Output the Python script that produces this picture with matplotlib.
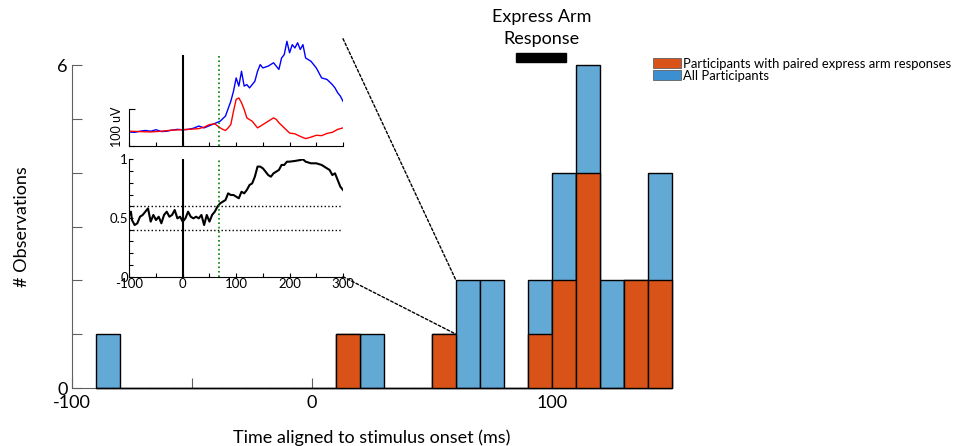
import numpy as np
import matplotlib.pyplot as plt
from matplotlib.patches import Patch, Rectangle, ConnectionPatch

plt.rcParams['font.family'] = ['Lato', 'DejaVu Sans']

## --- Data ---
# Histogram, 10 ms bins from -90 to 150 ms
bin_left = np.arange(-90, 150, 10)
all_counts = [1, 0, 0, 0, 0, 0, 0, 0, 0, 0, 1, 1, 0, 0, 1, 2, 2, 0, 2, 4, 6, 2, 2, 4]
paired_counts = [0, 0, 0, 0, 0, 0, 0, 0, 0, 0, 1, 0, 0, 0, 1, 0, 0, 0, 1, 2, 4, 0, 2, 2]

# Inset: EMG traces (uV)
t_blue = [-100, -90, -80, -70, -60, -50, -40, -30, -20, -10, 0, 10, 20, 30, 40, 50, 60,
          70, 80, 90, 95, 100, 105, 110, 115, 120, 125, 130, 135, 140, 145, 150, 160,
          170, 180, 185, 190, 195, 200, 205, 210, 215, 220, 225, 230, 240, 250, 260,
          270, 280, 285, 290, 295, 300]
emg_blue = [-2, -3, 0, 2, 0, 4, -1, 0, 3, 5, 4, 5, 8, 14, 9, 15, 21,
            27, 41, 81, 108, 144, 122, 162, 122, 126, 117, 126, 135, 162, 180, 171, 176,
            185, 167, 198, 207, 243, 212, 234, 225, 239, 221, 234, 198, 189, 171, 144,
            140, 126, 117, 104, 95, 81]
t_red = [-100, -80, -60, -40, -20, 0, 10, 20, 30, 40, 50, 60, 70, 75, 80, 85, 90, 95,
         100, 105, 110, 115, 120, 130, 140, 150, 160, 170, 175, 180, 190, 200, 210,
         220, 230, 240, 250, 260, 270, 280, 290, 300]
emg_red = [0, -1, -2, 0, 3, 4, 5, 6, 7, 11, 18, 20, 9, 5, 2, 9, 18, 54,
           86, 90, 77, 59, 36, 27, 9, 18, 27, 36, 32, 23, 9, -5, -7,
           -14, -20, -16, -11, -12, -6, -3, 5, 9]

# Inset: ROC area
t_roc = [-100, -97, -95, -90, -85, -80, -75, -70, -65, -60, -55, -50, -45, -40, -35,
         -30, -25, -20, -15, -10, -5, 0, 5, 10, 15, 20, 25, 30, 35, 40, 45, 50, 55, 60,
         65, 70, 75, 80, 85, 90, 95, 100, 105, 110, 115, 120, 125, 130, 135, 140, 145,
         150, 155, 160, 165, 170, 175, 180, 185, 190, 195, 200, 210, 220, 225, 230, 240,
         250, 260, 270, 275, 280, 285, 290, 295, 300]
roc = [0.526, 0.554, 0.483, 0.440, 0.455, 0.511, 0.526, 0.554, 0.582, 0.469, 0.526,
       0.483, 0.511, 0.455, 0.526, 0.554, 0.511, 0.526, 0.568, 0.497, 0.511, 0.469,
       0.497, 0.554, 0.511, 0.497, 0.511, 0.497, 0.526, 0.440, 0.526, 0.469, 0.526,
       0.554, 0.597, 0.625, 0.639, 0.653, 0.710, 0.696, 0.696, 0.682, 0.668, 0.724,
       0.710, 0.739, 0.781, 0.795, 0.852, 0.938, 0.938, 0.923, 0.895, 0.866, 0.852,
       0.881, 0.895, 0.909, 0.952, 0.952, 0.980, 0.980, 0.986, 0.994, 1.0, 0.980,
       0.966, 0.966, 0.952, 0.923, 0.909, 0.866, 0.881, 0.824, 0.767, 0.739]

discrim_time = 68
express_window = (85, 106)

## --- Colours ---
c_orange = '#d95319'
c_blue = '#63a9d6'
grey = '#606060'

fig = plt.figure(figsize=(9.6, 4.46), dpi=100)

## --- Main histogram ---
ax = fig.add_axes([0.075, 0.130, 0.625, 0.724])
ax.bar(bin_left, all_counts, width=10, align='edge', color=c_blue,
       edgecolor='black', linewidth=1, clip_on=False, zorder=3)
ax.bar(bin_left, paired_counts, width=10, align='edge', color=c_orange,
       edgecolor='black', linewidth=1, clip_on=False, zorder=3)
ax.set_xlim(-100, 150)
ax.set_ylim(0, 6)
ax.set_xticks([-100, -50, 0, 50, 100, 150])
ax.set_xticklabels(['-100', '', '0', '', '100', ''])
ax.set_yticks(range(7))
ax.set_yticklabels(['0', '', '', '', '', '', '6'])
ax.tick_params(direction='in', length=7, color=grey, labelsize=13)
ax.tick_params(axis='x', pad=5)
ax.tick_params(axis='y', pad=3)
for s in ['top', 'right']:
    ax.spines[s].set_visible(False)
for s in ['left', 'bottom']:
    ax.spines[s].set_color(grey)
ax.set_xlabel('Time aligned to stimulus onset (ms)', fontsize=13, labelpad=13)
ax.set_ylabel('# Observations', fontsize=13, labelpad=20)

# Express arm response window
ax.add_patch(Rectangle((express_window[0], 6.06), express_window[1] - express_window[0],
                       0.17, color='black', clip_on=False))
ax.text(95.5, 6.33, 'Express Arm\nResponse', ha='center', va='bottom',
        fontsize=13, linespacing=1.5)

handles = [Patch(facecolor=c_orange, edgecolor=grey, linewidth=0.6),
           Patch(facecolor='#3c8fd0', edgecolor=grey, linewidth=0.6)]
fig.legend(handles, ['Participants with paired express arm responses', 'All Participants'],
           loc='upper left', bbox_to_anchor=(0.673, 0.885), frameon=False,
           fontsize=9.4, handlelength=2.2, handleheight=0.8, handletextpad=0.1,
           labelspacing=0.0, borderpad=0)

## --- Inset: EMG ---
ax1 = fig.add_axes([0.1347, 0.6726, 0.2226, 0.2406])
ax1.plot(t_blue, emg_blue, color='blue', lw=1)
ax1.plot(t_red, emg_red, color='red', lw=1)
ax1.plot([0, 0], [-40, 203], color='black', lw=1.5)
ax1.plot([discrim_time, discrim_time], [-40, 203], color='green', lw=1.2, ls=':')
ax1.set_xlim(-100, 300)
ax1.set_ylim(-40, 250)
ax1.set_xticks(np.arange(-100, 301, 50))
ax1.set_xticklabels([])
ax1.set_yticks([-40, 60])
ax1.set_yticklabels([])
ax1.spines['left'].set_bounds(-40, 60)
ax1.tick_params(direction='in', length=3, width=0.8)
ax1.tick_params(axis='y', length=4)
for s in ['top', 'right']:
    ax1.spines[s].set_visible(False)
ax1.set_ylabel('100 uV', fontsize=9, labelpad=1, y=0.18)
ax1.patch.set_alpha(0)

## --- Inset: ROC ---
ax2 = fig.add_axes([0.1347, 0.3796, 0.2226, 0.2632])
ax2.plot(t_roc, roc, color='black', lw=1.5)
ax2.axhline(0.6, color='black', lw=1, ls=':')
ax2.axhline(0.4, color='black', lw=1, ls=':')
ax2.plot([0, 0], [0, 1], color='black', lw=1.5)
ax2.plot([discrim_time, discrim_time], [0, 1], color='green', lw=1.2, ls=':')
ax2.set_xlim(-100, 300)
ax2.set_ylim(0, 1)
ax2.set_xticks(np.arange(-100, 301, 50))
ax2.set_xticklabels(['-100', '', '0', '', '100', '', '200', '', '300'])
ax2.set_yticks(np.arange(0, 1.01, 0.1))
ax2.set_yticklabels(['0', '', '', '', '', '0.5', '', '', '', '', '1'])
ax2.tick_params(direction='in', length=3, width=0.8, labelsize=9.5, pad=1)
for s in ['top', 'right']:
    ax2.spines[s].set_visible(False)
ax2.patch.set_alpha(0)

## --- Zoom lines ---
for ya, yb, src in [(1, 2, ax1), (0, 1, ax2)]:
    con = ConnectionPatch(xyA=(1, ya), coordsA=src.transAxes, xyB=(60, yb),
                          coordsB=ax.transData, color='black', lw=1, ls=(0, (2, 1.5)))
    fig.add_artist(con)

plt.savefig('out.png')
